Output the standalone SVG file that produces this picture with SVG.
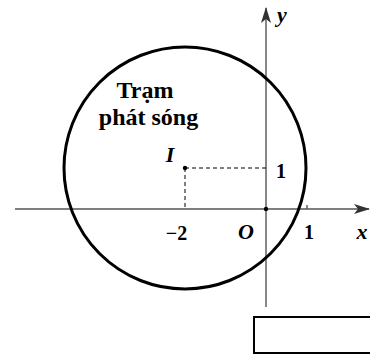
<svg xmlns="http://www.w3.org/2000/svg" width="370" height="358" viewBox="0 0 370 358">
<defs>
<style>
.ax{stroke:#555;stroke-width:1.4;fill:none}
.ds{stroke:#000;stroke-width:1;stroke-dasharray:4,3;fill:none}
.t{font-family:"Liberation Serif","Times New Roman",serif;font-weight:bold;fill:#000}
.i{font-style:italic}
</style>
<marker id="ah" viewBox="0 0 16 10" refX="15" refY="5" markerWidth="16" markerHeight="10" markerUnits="userSpaceOnUse" orient="auto">
<path d="M0,0 L16,5 L0,10 L4,5 Z" fill="#333"/>
</marker>
</defs>
<g id="connectors">
<line class="ax" x1="15" y1="209" x2="369" y2="209" marker-end="url(#ah)"/>
<line class="ax" x1="266" y1="307" x2="266" y2="8" marker-end="url(#ah)"/>
<line class="ax" x1="307" y1="205" x2="307" y2="209"/>
<line class="ds" x1="185" y1="168" x2="266" y2="168"/>
<line class="ds" x1="185" y1="168" x2="185" y2="209"/>
</g>
<g id="circle">
<circle cx="185" cy="168" r="121" fill="none" stroke="#000" stroke-width="3"/>
</g>
<g id="points">
<circle cx="185" cy="168" r="2.2" fill="#000"/>
<circle cx="266" cy="209" r="2.2" fill="#000"/>
</g>
<g id="label-station">
<text class="t" x="145" y="98" font-size="24" text-anchor="middle">Trạm</text>
<text class="t" x="148.5" y="125" font-size="24" text-anchor="middle">phát sóng</text>
</g>
<g id="labels">
<text class="t i" x="170" y="162" font-size="22" text-anchor="middle">I</text>
<text class="t" x="281" y="178" font-size="20" text-anchor="middle">1</text>
<text class="t" x="176.5" y="240" font-size="20" text-anchor="middle">−2</text>
<text class="t i" x="246" y="239" font-size="22" text-anchor="middle">O</text>
<text class="t" x="309" y="239" font-size="20" text-anchor="middle">1</text>
<text class="t i" x="362" y="239" font-size="22" text-anchor="middle">x</text>
<text class="t i" x="282" y="22" font-size="22" text-anchor="middle">y</text>
</g>
<g id="box">
<rect x="254" y="317" width="120" height="36" fill="#fff" stroke="#000" stroke-width="2"/>
</g>
</svg>
